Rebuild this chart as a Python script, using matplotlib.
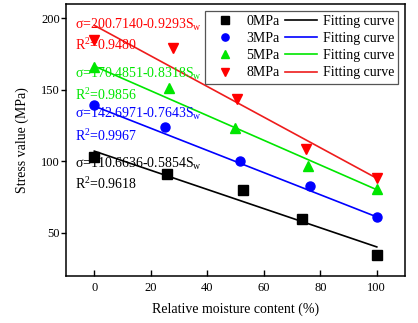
import matplotlib
matplotlib.use("Agg")
import matplotlib.pyplot as plt

plt.rcParams['font.family'] = ['Liberation Serif', 'DejaVu Serif']
plt.rcParams['mathtext.fontset'] = 'custom'
plt.rcParams['mathtext.rm'] = 'Liberation Serif'

# Data
labels = ['0MPa', '3MPa', '5MPa', '8MPa']
x_pts = [
    [0, 25.6, 52.5, 73.6, 100],
    [0, 25.0, 51.7, 76.3, 100],
    [0, 26.5, 49.8, 75.6, 100],
    [0, 27.9, 50.6, 74.9, 100],
]
y_pts = [
    [102.6, 90.9, 79.9, 59.4, 34.3],
    [139.5, 123.9, 100.0, 82.5, 60.8],
    [165.8, 151.4, 122.9, 96.7, 80.2],
    [184.4, 179.3, 143.7, 108.2, 87.9],
]
fit_x = [0, 100]
fit_y = [
    [107.0, 40.0],
    [138.5, 61.0],
    [166.5, 80.0],
    [195.0, 88.0],
]
equations = [
    r'σ=110.6636-0.5854S$_\mathregular{w}$',
    r'σ=142.6971-0.7643S$_\mathregular{w}$',
    r'σ=170.4851-0.8318S$_\mathregular{w}$',
    r'σ=200.7140-0.9293S$_\mathregular{w}$',
]
r2 = [r'R$^\mathregular{2}$=0.9618', r'R$^\mathregular{2}$=0.9967',
      r'R$^\mathregular{2}$=0.9856', r'R$^\mathregular{2}$=0.9480']
eq_y = [98.4, 133.2, 161.2, 195.6]
r2_y = [84.4, 117.5, 146.5, 181.4]

colors = ['#000000', '#0000ff', '#00e600', '#ff0000']
line_colors = ['#000000', '#0000ff', '#00e600', '#ee1c1c']
markers = ['s', 'o', '^', 'v']

fig = plt.figure(figsize=(4.18, 3.23), dpi=100)
ax = fig.add_axes([0.158, 0.147, 0.811, 0.841])

mk_handles = []
ln_handles = []
for i in range(4):
    h, = ax.plot(x_pts[i], y_pts[i], linestyle='none', marker=markers[i],
                 color=colors[i], markersize=6.5, label=labels[i], zorder=3)
    l, = ax.plot(fit_x, fit_y[i], color=line_colors[i], lw=1.2,
                 label='Fitting curve', zorder=2)
    mk_handles.append(h)
    ln_handles.append(l)
    ax.text(-7, eq_y[i], equations[i], color=colors[i], fontsize=10,
            ha='left', va='center')
    ax.text(-7, r2_y[i], r2[i], color=colors[i], fontsize=10,
            ha='left', va='center')

ax.set_xlim(-10, 110)
ax.set_ylim(20, 210)
ax.set_xticks([0, 20, 40, 60, 80, 100])
ax.set_yticks([50, 100, 150, 200])
ax.tick_params(axis='x', direction='in', labelsize=9, length=4, width=1, pad=5)
ax.tick_params(axis='y', direction='out', labelsize=9, length=3.5, width=1, pad=1)
for s in ax.spines.values():
    s.set_linewidth(1.1)
ax.set_xlabel('Relative moisture content (%)', fontsize=10, labelpad=6)
ax.set_ylabel('Stress value (MPa)', fontsize=10, labelpad=9)

leg = ax.legend(mk_handles + ln_handles, labels + ['Fitting curve'] * 4,
                ncol=2, loc='upper right', fontsize=10, fancybox=False,
                edgecolor='#555555', framealpha=1, handlelength=2.3,
                handletextpad=0.4, columnspacing=0.4, labelspacing=0.3,
                borderpad=0.3, borderaxespad=0.5, markerscale=0.8)
leg.get_frame().set_linewidth(0.9)

fig.savefig('out.png', dpi=100)
